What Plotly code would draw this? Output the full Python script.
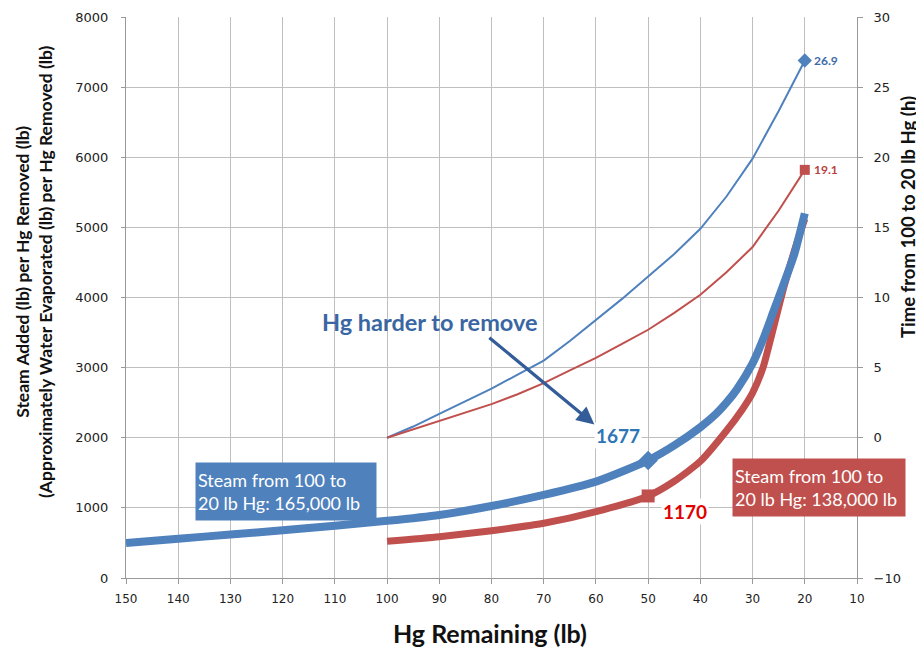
import plotly.graph_objects as go

# Thick curves (left axis): steam added per Hg removed
blue_x = [150, 140, 130, 120, 110, 100, 90, 80, 70, 60, 50, 45, 40, 37, 35, 33, 30, 28, 26, 24, 22, 20]
blue_y = [500, 560, 620, 680, 745, 815, 899, 1027, 1184, 1374, 1677, 1890, 2150, 2340, 2500, 2690, 3060, 3400, 3800, 4200, 4620, 5200]
red_x = [100, 90, 80, 70, 60, 50, 45, 40, 35, 32, 30, 28, 26.5, 24, 21.6, 20]
red_y = [525, 589, 675, 780, 946, 1170, 1380, 1664, 2100, 2400, 2640, 3000, 3420, 4150, 4760, 5120]

# Thin curves (right axis): time from 100 to 20 lb Hg
tblue_x = [100, 95, 90, 85, 80, 75, 70, 65, 60, 55, 50, 45, 40, 35, 30, 25, 20]
tblue_y = [0, 0.8, 1.7, 2.6, 3.5, 4.5, 5.5, 6.9, 8.4, 9.9, 11.5, 13.1, 14.9, 17.2, 19.9, 23.3, 26.9]
tred_x = [100, 95, 90, 85, 80, 75, 70, 65, 60, 55, 50, 45, 40, 35, 30, 25, 20]
tred_y = [0, 0.6, 1.2, 1.8, 2.4, 3.1, 3.9, 4.8, 5.7, 6.7, 7.7, 8.9, 10.2, 11.8, 13.6, 16.2, 19.1]

x_ticks = list(range(150, 9, -10))

BLUE = "#4f81bd"
RED = "#c0504d"
FONT = "Lato"
TICKFONT = "DejaVu Sans"

fig = go.Figure()
fig.add_trace(go.Scatter(x=tblue_x, y=tblue_y, yaxis="y2", mode="lines",
                         line=dict(color=BLUE, width=2), showlegend=False))
fig.add_trace(go.Scatter(x=tred_x, y=tred_y, yaxis="y2", mode="lines",
                         line=dict(color=RED, width=2), showlegend=False))
fig.add_trace(go.Scatter(x=red_x, y=red_y, mode="lines",
                         line=dict(color=RED, width=7, shape="spline", smoothing=0.6), showlegend=False))
fig.add_trace(go.Scatter(x=blue_x, y=blue_y, mode="lines",
                         line=dict(color=BLUE, width=8, shape="spline", smoothing=0.6), showlegend=False))
# markers
fig.add_trace(go.Scatter(x=[blue_x[10]], y=[blue_y[10]], mode="markers",
                         marker=dict(symbol="diamond", size=15, color=BLUE), showlegend=False))
fig.add_trace(go.Scatter(x=[red_x[5]], y=[red_y[5]], mode="markers",
                         marker=dict(symbol="square", size=13, color=RED), showlegend=False))
fig.add_trace(go.Scatter(x=[tblue_x[-1]], y=[tblue_y[-1]], yaxis="y2", mode="markers",
                         marker=dict(symbol="diamond", size=11, color=BLUE), showlegend=False))
fig.add_trace(go.Scatter(x=[tred_x[-1]], y=[tred_y[-1]], yaxis="y2", mode="markers",
                         marker=dict(symbol="square", size=10, color=RED), showlegend=False))

ann = []
ann.append(dict(x=tblue_x[-1], y=tblue_y[-1], yref="y2", text="<b>%.1f</b>" % tblue_y[-1],
                showarrow=False, xanchor="left", xshift=7, font=dict(size=12, color="#3c6aa8", family=FONT)))
ann.append(dict(x=tred_x[-1], y=tred_y[-1], yref="y2", text="<b>%.1f</b>" % tred_y[-1],
                showarrow=False, xanchor="left", xshift=7, font=dict(size=12, color="#b8423f", family=FONT)))
ann.append(dict(x=blue_x[10], y=blue_y[10], text="<b>%d</b>" % blue_y[10], showarrow=False,
                xshift=-30, yshift=25, bgcolor="white",
                font=dict(size=19, color="#2e75b6", family=FONT)))
ann.append(dict(x=red_x[5], y=red_y[5], text="<b>%d</b>" % red_y[5], showarrow=False,
                xshift=37, yshift=-16, bgcolor="white",
                font=dict(size=19, color="#e00000", family=FONT)))
ann.append(dict(x=60.3, y=2190, ax=80.7, ay=3445, axref="x", ayref="y", text="", showarrow=True,
                arrowhead=2, arrowsize=1.1, arrowwidth=3.2, arrowcolor="#335c98"))
ann.append(dict(x=91.8, y=3652, text="<b>Hg harder to remove</b>", showarrow=False,
                xanchor="center", yanchor="middle",
                font=dict(size=23.5, color="#3a66a3", family=FONT)))
ann.append(dict(x=119.45, y=1234, text="Steam from 100 to<br>20 lb Hg: 165,000 lb", showarrow=False,
                bgcolor=BLUE, width=176, height=53, align="left", borderpad=2,
                font=dict(size=18, color="white", family=FONT)))
ann.append(dict(x=17.27, y=1284, text="Steam from 100 to<br>20 lb Hg: 138,000 lb", showarrow=False,
                bgcolor=RED, width=168, height=53, align="left", borderpad=2,
                font=dict(size=18, color="white", family=FONT)))
# axis titles as annotations for exact placement
ann.append(dict(xref="paper", yref="paper", x=-0.1259, y=0.5455, textangle=-90, showarrow=False,
                xanchor="center", yanchor="middle",
                text="<b>Steam Added (lb) per Hg Removed (lb)<br>(Approximately Water Evaporated (lb) per Hg Removed (lb)</b>",
                font=dict(size=17.5, family=FONT, color="#111")))
ann.append(dict(xref="paper", yref="paper", x=1.0698, y=0.6435, textangle=-90, showarrow=False,
                xanchor="center", yanchor="middle",
                text="<b>Time from 100 to 20 lb Hg (h)</b>",
                font=dict(size=18.5, family=FONT, color="#111")))
ann.append(dict(xref="paper", yref="paper", x=0.498, y=-0.098, showarrow=False,
                xanchor="center", yanchor="middle",
                text="<b>Hg Remaining (lb)</b>",
                font=dict(size=25, family=FONT, color="#111")))

fig.update_layout(
    width=924, height=655,
    margin=dict(l=118, r=75, t=9, b=85),
    paper_bgcolor="white", plot_bgcolor="white",
    font=dict(family=FONT, color="#222"),
    annotations=ann,
    xaxis=dict(range=[150, 10], tickvals=x_ticks, ticktext=[str(v) for v in x_ticks],
               showgrid=True, gridcolor="#bfbfbf", gridwidth=1,
               showline=True, linecolor="#999", ticks="outside", ticklen=5, tickcolor="#999",
               tickfont=dict(size=12, family=TICKFONT, color="#222"), ticklabelstandoff=5,
               zeroline=False, automargin=False),
    yaxis=dict(range=[0, 8000], dtick=1000, showgrid=True, gridcolor="#bfbfbf",
               showline=True, linecolor="#999", ticks="outside", ticklen=4, tickcolor="#999",
               tickfont=dict(size=13, family=TICKFONT, color="#222"), ticklabelstandoff=10,
               zeroline=False, automargin=False),
    yaxis2=dict(range=[-10, 30], overlaying="y", side="right", showgrid=False,
                tickvals=[-10, 0, 5, 10, 15, 20, 25, 30],
                showline=True, linecolor="#999", ticks="outside", ticklen=5, tickcolor="#999",
                tickfont=dict(size=13, family=TICKFONT, color="#222"), ticklabelstandoff=8,
                zeroline=False, automargin=False),
)

fig.write_html("out.html")
